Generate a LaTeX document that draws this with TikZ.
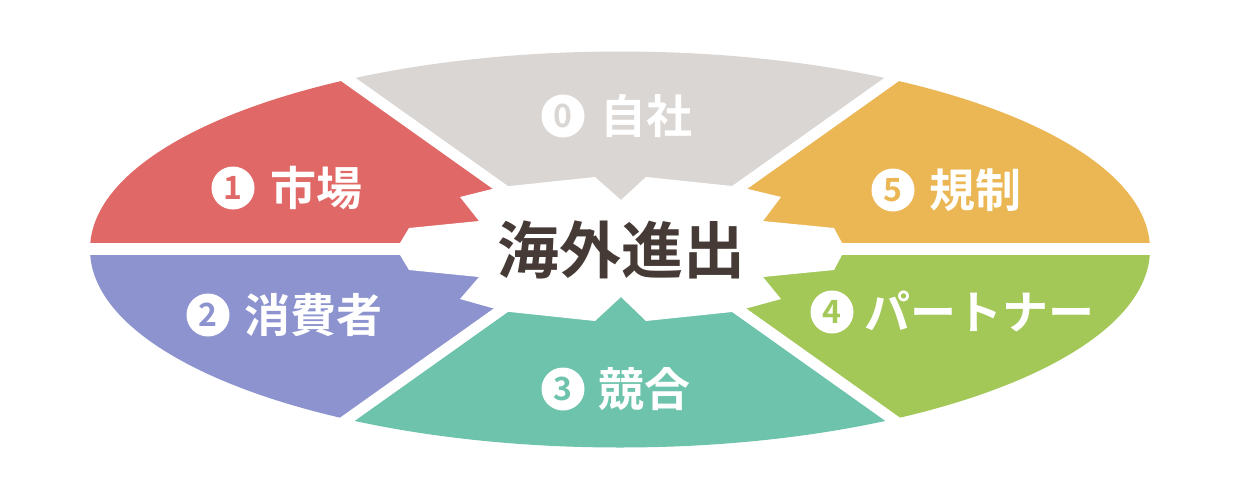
\documentclass[tikz,border=0pt]{standalone}
\usepackage{fontspec}
\newfontfamily\jp{Noto Sans CJK JP}[BoldFont={Noto Sans CJK JP Bold}]
\definecolor{cred}{HTML}{E06967}
\definecolor{cblue}{HTML}{8C93CF}
\definecolor{cteal}{HTML}{6DC3AB}
\definecolor{cgreen}{HTML}{A3C858}
\definecolor{corange}{HTML}{EBB654}
\definecolor{cgrey}{HTML}{DAD6D3}
\definecolor{cdark}{HTML}{463A36}
\tikzset{
  num/.style={circle,fill=white,minimum size=43pt,inner sep=0,font=\jp\bfseries\fontsize{32}{32}\selectfont},
  lab/.style={anchor=base west,inner sep=0,text=white,font=\jp\bfseries\fontsize{46}{46}\selectfont},
  gap/.style={white,line width=11pt}
}
\begin{document}
\begin{tikzpicture}[x=1pt,y=-1pt]
\useasboundingbox (0,0) rectangle (1240,498);
\coordinate (P) at (587,249);
\coordinate (Q) at (653,249);
\coordinate (TL) at (0,-168);
\coordinate (BL) at (0,666);
\coordinate (TR) at (1240,-168);
\coordinate (BR) at (1240,666);
\coordinate (ML) at (0,249);
\coordinate (MR) at (1240,249);
\foreach \col/\poly in {cgrey/{(P)--(TL)--(TR)--(Q)--cycle},
  cred/{(P)--(TL)--(ML)--cycle},
  cblue/{(P)--(ML)--(BL)--cycle},
  cteal/{(P)--(BL)--(BR)--(Q)--cycle},
  cgreen/{(Q)--(BR)--(MR)--cycle},
  corange/{(Q)--(MR)--(TR)--cycle}}{
  \begin{scope}
    \clip \poly;
    \fill[\col] (620,249.5) ellipse [x radius=530, y radius=198];
  \end{scope}
}
\draw[gap] (TL)--(P)--(BL);
\draw[gap] (TR)--(Q)--(BR);
\draw[white,line width=12pt] (ML)--(MR);
\fill[white] (510,186)--(595,177)--(621,200)--(646,177)--(732,186)
  --(748,189)--(781,197)--(763,221)--(834,228)--(842,243)--(842,255)--(834,270)--(763,277)--(781,299)--(748,308)
  --(732,312)--(646,321)--(621,297)--(595,321)--(510,312)
  --(492,308)--(460,299)--(479,277)--(409,270)--(400,255)--(400,243)--(409,228)--(479,221)--(460,197)--(492,189)--cycle;
\node[anchor=base,inner sep=0,text=cdark,font=\jp\bfseries\fontsize{62}{62}\selectfont] (c) at (621,273) {海外進出};
\node[num,text=cgrey] (n0) at (563,116) {0};
\node[lab] (t0) at (600,133) {自社};
\node[num,text=cred] (n1) at (233,188) {1};
\node[lab] (t1) at (270,205) {市場};
\node[num,text=cblue] (n2) at (208,315) {2};
\node[lab] (t2) at (244,332) {消費者};
\node[num,text=cteal] (n3) at (563,389) {3};
\node[lab] (t3) at (598,406) {競合};
\node[num,text=cgreen] (n4) at (832,312) {4};
\node[lab] (t4) at (864,329) {パートナー};
\node[num,text=corange] (n5) at (893,190) {5};
\node[lab] (t5) at (929,207) {規制};
\end{tikzpicture}
\end{document}
